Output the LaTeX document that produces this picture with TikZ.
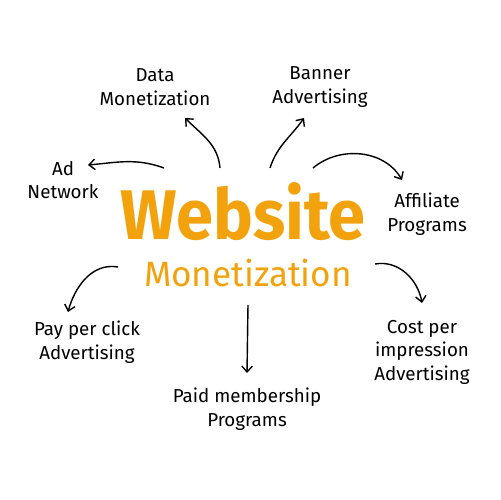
\documentclass[tikz,border=0pt]{standalone}
\usepackage{fontspec}
\setmainfont{Fira Sans}
\usetikzlibrary{arrows.meta}
\definecolor{weborange}{RGB}{242,162,12}

\begin{document}
\begin{tikzpicture}[x=0.03cm,y=0.03cm,
	topic/.style={align=center,font=\fontsize{16}{20}\selectfont},
	bigtitle/.style={text=weborange,inner sep=0pt,font=\fontsize{60}{60}\selectfont\bfseries,xscale=0.95,transform shape},
	subtitle/.style={text=weborange,inner sep=0pt,font=\fontsize{30}{30}\selectfont,xscale=1.0,transform shape},
	arr/.style={-{Straight Barb[length=5pt,width=9pt]},line width=1.2pt,black}]
			\useasboundingbox (0,0) rectangle (500,500);
			\node[bigtitle] (web) at (243,288) {Website};
			\node[subtitle] (mon) at (248,227) {Monetization};

			\node[topic] (data) at (155,413) {Data\\Monetization};
			\node[topic] (banner) at (320,413) {Banner\\Advertising};
			\node[topic] (adnet) at (63,320) {Ad\\Network};
			\node[topic] (affil) at (427,286) {Affiliate\\Programs};
			\node[topic] (ppc) at (87,158) {Pay per click\\Advertising};
			\node[topic] (paid) at (247,91) {Paid membership\\Programs};
			\node[topic] (cpi) at (422,148) {Cost per\\impression\\Advertising};

			\path[arr] ([shift={(-23,44)}]web.center) edge[out=95,in=-45] ([shift={(30,-31)}]data.center)
						 ([shift={(-79,44)}]web.center) edge[out=160,in=5] ([shift={(25,15)}]adnet.center)
						 ([shift={(27,44)}]web.center) edge[out=72,in=-125] ([shift={(-16,-31)}]banner.center)
						 ([shift={(70,44)}]web.center) edge[out=40,in=120] ([shift={(-25,34)}]affil.center)
						 ([shift={(-130,6)}]mon.center) edge[out=170,in=75] ([shift={(-19,30)}]ppc.center)
						 ([shift={(0,-32)}]mon.center) edge ([shift={(0,36)}]paid.center)
						 ([shift={(127,9)}]mon.center) edge[out=10,in=100] ([shift={(0,49)}]cpi.center);
		\end{tikzpicture}
\end{document}
